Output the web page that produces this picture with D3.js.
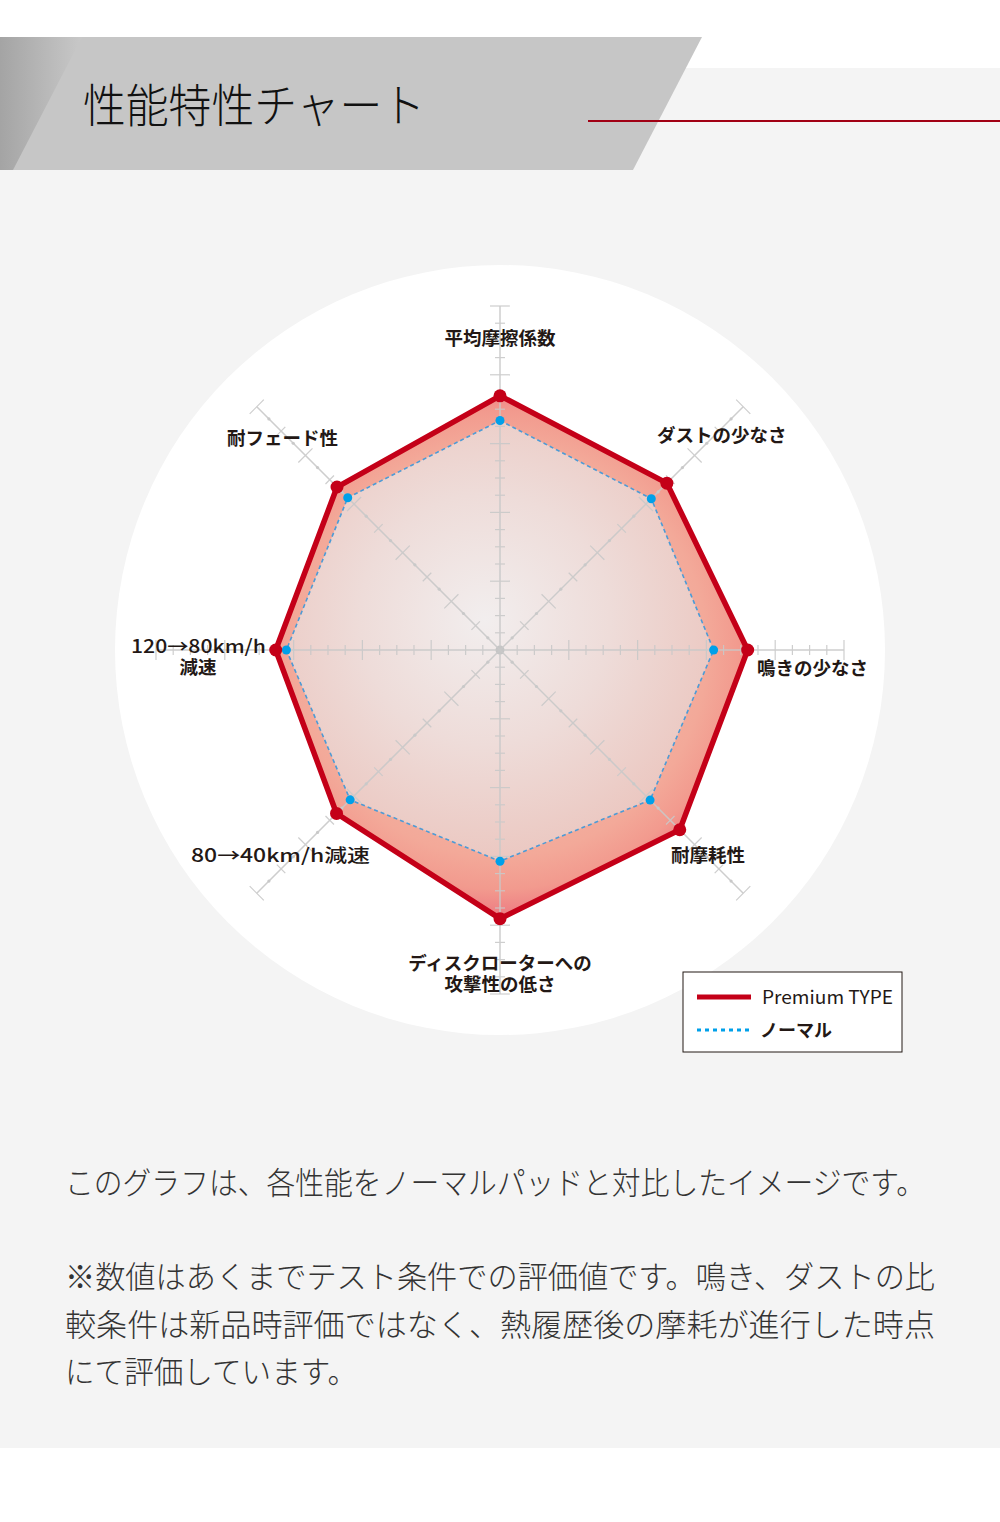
<!DOCTYPE html>
<html>
<head>
<meta charset="utf-8">
<script src="https://cdn.jsdelivr.net/npm/d3@7"></script>
<style>
  body { margin: 0; background: #fff; }
  svg { display: block; }
</style>
</head>
<body>
<div id="chart"></div>
<script>
// 軸ラベル（時計回り、上から）
const axisLabels = [
  ["平均摩擦係数"],
  ["ダストの少なさ"],
  ["鳴きの少なさ"],
  ["耐摩耗性"],
  ["ディスクローターへの", "攻撃性の低さ"],
  ["80→40km/h減速"],
  ["120→80km/h", "減速"],
  ["耐フェード性"]
];
const premiumValues = [73.9, 68.6, 72.0, 73.9, 78.1, 67.2, 65.2, 67.0];
const normalValues  = [66.7, 62.2, 62.1, 61.7, 61.4, 61.6, 62.1, 62.6];
const seriesNames = ["Premium TYPE", "ノーマル"];
const tickCount = 20;

const width = 1000, height = 1522;
const cx = 500, cy = 650, R = 344;
const font = "'Noto Sans CJK JP', 'Noto Sans', sans-serif";

const svg = d3.select('#chart').append('svg')
  .attr('width', width)
  .attr('height', height);

const defs = svg.append('defs');

// 背景
svg.append('rect').attr('x', 0).attr('y', 0).attr('width', width).attr('height', height).attr('fill', '#fff');
svg.append('rect').attr('x', 0).attr('y', 68).attr('width', width).attr('height', 1448 - 68).attr('fill', '#f4f4f4');

// ヘッダー
const hg = defs.append('linearGradient').attr('id', 'headGrad').attr('x1', 0).attr('x2', 1).attr('y1', 0).attr('y2', 0);
hg.append('stop').attr('offset', 0).attr('stop-color', '#a4a4a4');
hg.append('stop').attr('offset', 1).attr('stop-color', '#c8c8c8');
svg.append('path')
  .attr('d', 'M0,37 L702,37 L633,170 L0,170 Z')
  .attr('fill', '#c6c6c6');
svg.append('path')
  .attr('d', 'M0,37 L82,37 L13,170 L0,170 Z')
  .attr('fill', 'url(#headGrad)');
svg.append('text')
  .attr('x', 83).attr('y', 122)
  .attr('font-family', font).attr('font-weight', 300)
  .attr('font-size', 46).attr('fill', '#111')
  .attr('textLength', 342).attr('lengthAdjust', 'spacingAndGlyphs')
  .text('性能特性チャート');
svg.append('line')
  .attr('x1', 588).attr('x2', 1000).attr('y1', 121).attr('y2', 121)
  .attr('stroke', '#a10014').attr('stroke-width', 2);

// 白い円
svg.append('circle').attr('cx', cx).attr('cy', cy).attr('r', 385).attr('fill', '#fff');

const n = axisLabels.length;
const angle = d3.scaleLinear().domain([0, n]).range([0, 2 * Math.PI]);
const r = d3.scaleLinear().domain([0, 100]).range([0, R]);
const pt = (i, v) => [cx + r(v) * Math.sin(angle(i)), cy - r(v) * Math.cos(angle(i))];

const g = svg.append('g');

// 軸と目盛り
const axisG = g.append('g').attr('stroke', '#c9c9c9').attr('fill', 'none');
d3.range(n).forEach(i => {
  const [x2, y2] = pt(i, 100);
  axisG.append('line').attr('x1', cx).attr('y1', cy).attr('x2', x2).attr('y2', y2).attr('stroke-width', 1.5);
  const a = angle(i);
  const px = Math.cos(a), py = Math.sin(a);
  const diag = i % 2 === 1;
  r.ticks(tickCount).slice(1).forEach((t, k) => {
    const [tx, ty] = pt(i, t);
    const idx = k + 1;
    let h;
    if (diag) {
      if (idx % 2 === 1) {
        g.append('circle').attr('cx', tx).attr('cy', ty).attr('r', 1.6).attr('fill', '#c9c9c9');
        return;
      }
      h = idx % 4 === 0 ? 10 : 6;
    } else {
      h = idx % 4 === 0 ? 10 : 5;
    }
    axisG.append('line')
      .attr('x1', tx - px * h).attr('y1', ty - py * h)
      .attr('x2', tx + px * h).attr('y2', ty + py * h)
      .attr('stroke-width', 1.2);
  });
});
g.append('circle').attr('cx', cx).attr('cy', cy).attr('r', 4.5).attr('fill', '#c4c4c4');

// グラデーション
const pg = defs.append('radialGradient').attr('id', 'premGrad')
  .attr('gradientUnits', 'userSpaceOnUse').attr('cx', cx).attr('cy', cy).attr('r', 272);
pg.append('stop').attr('offset', 0).attr('stop-color', '#f4c8be');
pg.append('stop').attr('offset', 0.76).attr('stop-color', '#f3a999');
pg.append('stop').attr('offset', 0.88).attr('stop-color', '#f29a8e');
pg.append('stop').attr('offset', 1).attr('stop-color', '#ec7580');

const ng = defs.append('radialGradient').attr('id', 'normGrad')
  .attr('gradientUnits', 'userSpaceOnUse').attr('cx', cx - 15).attr('cy', cy - 30).attr('r', 250);
ng.append('stop').attr('offset', 0).attr('stop-color', '#f2eeee');
ng.append('stop').attr('offset', 0.5).attr('stop-color', '#eedcd9');
ng.append('stop').attr('offset', 1).attr('stop-color', '#ebc6bf');

const line = d3.line().curve(d3.curveLinearClosed);
const premPts = premiumValues.map((v, i) => pt(i, v));
const normPts = normalValues.map((v, i) => pt(i, v));

// 塗り（軸の下）
g.insert('path', ':first-child').attr('d', line(normPts)).attr('fill', 'url(#normGrad)');
g.insert('path', ':first-child').attr('d', line(premPts)).attr('fill', 'url(#premGrad)');

axisG.raise().attr('opacity', 0.9);

// ノーマル線
g.append('path').attr('d', line(normPts))
  .attr('fill', 'none').attr('stroke', '#4c9bd6')
  .attr('stroke-width', 1.6).attr('stroke-dasharray', '4,3');
g.selectAll('.ndot').data(normPts).enter().append('circle')
  .attr('class', 'ndot')
  .attr('cx', d => d[0]).attr('cy', d => d[1]).attr('r', 4.5)
  .attr('fill', '#00a0e9');

// プレミアム線
g.append('path').attr('d', line(premPts))
  .attr('fill', 'none').attr('stroke', '#c40018')
  .attr('stroke-width', 5.5).attr('stroke-linejoin', 'round');
g.selectAll('.pdot').data(premPts).enter().append('circle')
  .attr('class', 'pdot')
  .attr('cx', d => d[0]).attr('cy', d => d[1]).attr('r', 6.5)
  .attr('fill', '#c40018');

// ラベル
const labelPos = [
  {x: 500, y: 345, a: 'middle'},
  {x: 657, y: 442, a: 'start'},
  {x: 757, y: 675, a: 'start'},
  {x: 671, y: 862, a: 'start'},
  {x: 500, y: 970, a: 'middle'},
  {x: 191, y: 862, a: 'start', w: 179},
  {x: 266, y: 653, a: 'end', w: 135},
  {x: 227, y: 445, a: 'start'}
];
axisLabels.forEach((lines, i) => {
  const p = labelPos[i];
  const t = g.append('text')
    .attr('font-family', font).attr('font-weight', 700)
    .attr('font-size', 18.5).attr('fill', '#231815');
  lines.forEach((s, j) => {
    let x = p.x, a = p.a;
    if (i === 6 && j === 1) { x = 198; a = 'middle'; }
    const ts = t.append('tspan')
      .attr('x', x).attr('y', p.y + j * 21)
      .attr('text-anchor', a)
      .text(s);
    if (p.w && j === 0) ts.attr('textLength', p.w).attr('lengthAdjust', 'spacingAndGlyphs').attr('font-weight', 500);
  });
});

// 凡例
const lg = svg.append('g');
lg.append('rect').attr('x', 683).attr('y', 972).attr('width', 219).attr('height', 80)
  .attr('fill', '#fff').attr('stroke', '#231815').attr('stroke-width', 1);
lg.append('line').attr('x1', 697).attr('x2', 751).attr('y1', 997).attr('y2', 997)
  .attr('stroke', '#c40018').attr('stroke-width', 5);
lg.append('line').attr('x1', 697).attr('x2', 749).attr('y1', 1030).attr('y2', 1030)
  .attr('stroke', '#00a0e9').attr('stroke-width', 3).attr('stroke-dasharray', '4,4');
lg.append('text').attr('x', 762).attr('y', 1004)
  .attr('font-family', font).attr('font-size', 18).attr('fill', '#231815')
  .attr('textLength', 131).attr('lengthAdjust', 'spacingAndGlyphs')
  .text(seriesNames[0]);
lg.append('text').attr('x', 760).attr('y', 1037)
  .attr('font-family', font).attr('font-weight', 700).attr('font-size', 18).attr('fill', '#231815')
  .text(seriesNames[1]);

// 説明文
const notes = [
  {t: 'このグラフは、各性能をノーマルパッドと対比したイメージです。', y: 1194, w: 860},
  {t: '※数値はあくまでテスト条件での評価値です。鳴き、ダストの比', y: 1288, w: 870},
  {t: '較条件は新品時評価ではなく、熱履歴後の摩耗が進行した時点', y: 1336, w: 870},
  {t: 'にて評価しています。', y: 1383, w: 292}
];
notes.forEach(d => {
  svg.append('text').attr('x', 65).attr('y', d.y)
    .attr('font-family', font).attr('font-weight', 300)
    .attr('font-size', 31).attr('fill', '#333')
    .attr('textLength', d.w).attr('lengthAdjust', 'spacingAndGlyphs')
    .text(d.t);
});
</script>
</body>
</html>
